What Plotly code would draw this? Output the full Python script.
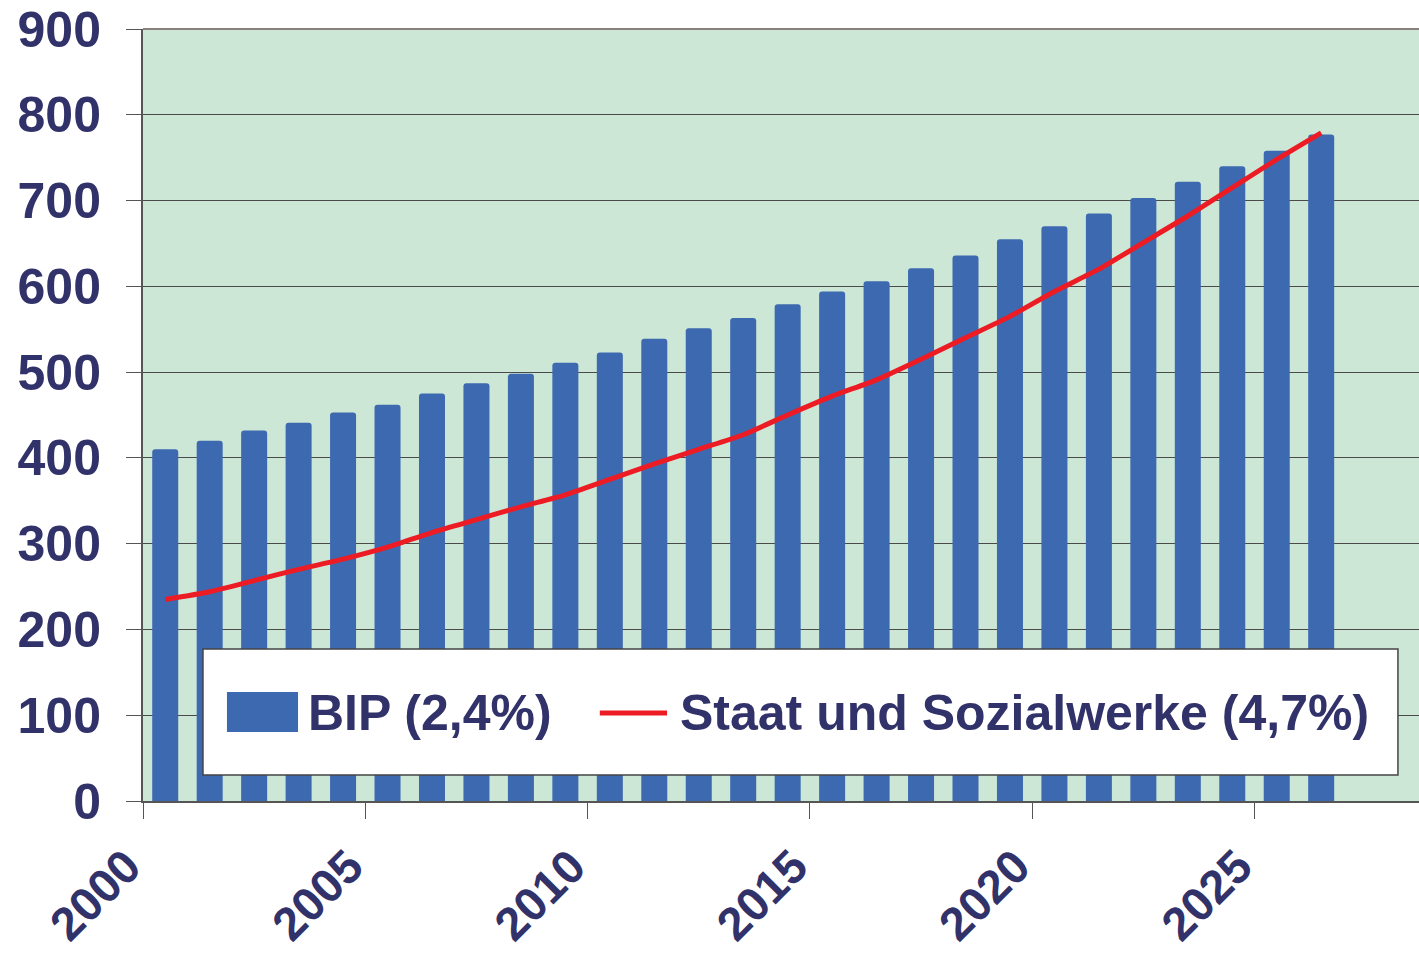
import plotly.graph_objects as go

# ---- data ----
years = [2000.5 + i for i in range(27)]
bip = [410, 420, 432, 441, 453, 462, 475, 487, 498, 511, 523, 539, 551, 563,
       579, 594, 606, 621, 636, 655, 670, 685, 703, 722, 740, 758, 777]
staat = [235, 244, 257, 270, 282, 296, 313, 328, 343, 357, 375, 393, 410, 427,
         450, 472, 491, 515, 540, 565, 594, 620, 651, 682, 715, 748, 779]
tick_vals = [2000, 2005, 2010, 2015, 2020, 2025]
tick_text = ["2000", "2005", "2010", "2015", "2020", "2025"]
y_ticks = [0, 100, 200, 300, 400, 500, 600, 700, 800, 900]
name_bip = "BIP (2,4%)"
name_staat = "Staat und Sozialwerke (4,7%)"

TEXT = "#32326a"
BAR = "#3d69b1"
RED = "#ed1c24"
FONT = "Liberation Sans, Arial, Helvetica, sans-serif"

fig = go.Figure()
fig.add_trace(go.Bar(x=years, y=bip, name=name_bip, width=0.585,
                     marker=dict(color=BAR, cornerradius=3, line=dict(width=0)),
                     showlegend=False))
fig.add_trace(go.Scatter(x=years, y=staat, name=name_staat, mode="lines",
                         line=dict(color=RED, width=5, shape="spline", smoothing=0.6),
                         showlegend=False))

# custom legend box
fig.add_shape(type="rect", xref="paper", yref="paper", x0=0.047, x1=0.9835,
              y0=0.0337, y1=0.197, fillcolor="white",
              line=dict(color="#444444", width=1.5), layer="above")
fig.add_shape(type="rect", xref="paper", yref="paper", x0=0.0658, x1=0.1215,
              y0=0.0894, y1=0.1412, fillcolor=BAR, line=dict(width=0), layer="above")
fig.add_shape(type="line", xref="paper", yref="paper", x0=0.358, x1=0.4107,
              y0=0.114, y1=0.114, line=dict(color=RED, width=5), layer="above")
fig.add_annotation(xref="paper", yref="paper", x=0.1275, y=0.114, xanchor="left",
                   yanchor="middle", text="<b>" + name_bip + "</b>", showarrow=False,
                   font=dict(family=FONT, size=50, color=TEXT))
fig.add_annotation(xref="paper", yref="paper", x=0.419, y=0.114, xanchor="left",
                   yanchor="middle", text="<b>" + name_staat + "</b>", showarrow=False,
                   font=dict(family=FONT, size=50, color=TEXT))

fig.update_layout(
    width=1419, height=956,
    margin=dict(l=143, r=0, t=29, b=155, pad=0),
    paper_bgcolor="white", plot_bgcolor="#cde7d6",
    font=dict(family=FONT, color=TEXT),
    bargap=0.4,
    xaxis=dict(range=[2000, 2028.7], tickvals=tick_vals,
               ticktext=["<b>" + t + "</b>" for t in tick_text],
               tickangle=-45, ticks="outside", ticklen=16, tickcolor="#555555",
               tickfont=dict(size=47, color=TEXT, family=FONT),
               ticklabelshift=-16, ticklabelstandoff=1, automargin=False,
               showline=True, linecolor="#555555", linewidth=2, mirror=False,
               showgrid=False, zeroline=False),
    yaxis=dict(range=[0, 900], tickvals=y_ticks,
               ticktext=["<b>%d</b>" % v for v in y_ticks],
               ticks="outside", ticklen=15, tickcolor="#555555",
               tickfont=dict(size=50, color=TEXT, family=FONT),
               ticklabelstandoff=15, automargin=False,
               showline=True, linecolor="#555555", linewidth=2,
               showgrid=True, gridcolor="#4a4a4a", gridwidth=1, zeroline=False),
)
# top border line of plot area
fig.add_shape(type="line", xref="paper", yref="paper", x0=0, x1=1, y0=1, y1=1,
              line=dict(color="#8a807c", width=2))

fig.write_html("out.html", config={"displayModeBar": False},
               post_script="document.body.style.margin='0';")
